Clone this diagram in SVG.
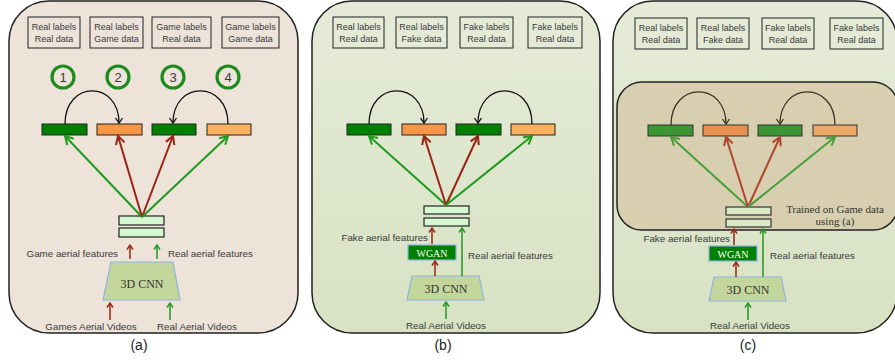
<svg xmlns="http://www.w3.org/2000/svg" width="895" height="360" viewBox="0 0 895 360">
<defs>
<linearGradient id="gb" x1="0" y1="0" x2="0" y2="1"><stop offset="0" stop-color="#e5ebd8"/><stop offset="1" stop-color="#d8e2c3"/></linearGradient>
<marker id="ag" markerUnits="userSpaceOnUse" markerWidth="12" markerHeight="12" viewBox="-10 -6 12 12" refX="0" refY="0" orient="auto"><path d="M-8,-4.5 L0,0 L-8,4.5" fill="none" stroke="#1e9a1e" stroke-width="2"/></marker>
<marker id="ar" markerUnits="userSpaceOnUse" markerWidth="12" markerHeight="12" viewBox="-10 -6 12 12" refX="0" refY="0" orient="auto"><path d="M-8,-4.5 L0,0 L-8,4.5" fill="none" stroke="#9a2412" stroke-width="2"/></marker>
<marker id="agc" markerUnits="userSpaceOnUse" markerWidth="12" markerHeight="12" viewBox="-10 -6 12 12" refX="0" refY="0" orient="auto"><path d="M-8,-4.5 L0,0 L-8,4.5" fill="none" stroke="#4a9e3a" stroke-width="2"/></marker>
<marker id="arc" markerUnits="userSpaceOnUse" markerWidth="12" markerHeight="12" viewBox="-10 -6 12 12" refX="0" refY="0" orient="auto"><path d="M-8,-4.5 L0,0 L-8,4.5" fill="none" stroke="#b0452e" stroke-width="2"/></marker>
<marker id="ak" markerUnits="userSpaceOnUse" markerWidth="10" markerHeight="10" viewBox="-8 -5 10 10" refX="0" refY="0" orient="auto"><path d="M-5,-3.5 L0,0 L-5,3.5" fill="none" stroke="#111" stroke-width="1.3"/></marker>
<marker id="akc" markerUnits="userSpaceOnUse" markerWidth="10" markerHeight="10" viewBox="-8 -5 10 10" refX="0" refY="0" orient="auto"><path d="M-5,-3.5 L0,0 L-5,3.5" fill="none" stroke="#3a3228" stroke-width="1.3"/></marker>
<marker id="sg" markerUnits="userSpaceOnUse" markerWidth="8" markerHeight="8" viewBox="-6 -4 8 8" refX="0" refY="0" orient="auto"><path d="M-4.5,-3 L0,0 L-4.5,3" fill="none" stroke="#1e9a1e" stroke-width="1.4"/></marker>
<marker id="sr" markerUnits="userSpaceOnUse" markerWidth="8" markerHeight="8" viewBox="-6 -4 8 8" refX="0" refY="0" orient="auto"><path d="M-4.5,-3 L0,0 L-4.5,3" fill="none" stroke="#9a2412" stroke-width="1.4"/></marker>
</defs>
<style>
.t{font-family:"Liberation Sans",Arial,sans-serif;fill:#3a3a3a;}
.lb{font-size:9px;text-anchor:middle;}
.lf{font-size:9.8px;}
.s{font-family:"Liberation Serif","Times New Roman",serif;fill:#333;}
.box{fill:none;stroke:#222;stroke-width:1;}
.circ{fill:none;stroke:#1b8c1b;stroke-width:3.2;}
.num{font-size:13px;text-anchor:middle;}
.bg{fill:#008000;stroke:#222;stroke-width:1;}
.bo{fill:#f79646;stroke:#222;stroke-width:1;}
.bl{fill:#fbb05f;stroke:#222;stroke-width:1;}
.bgc{fill:#3d9634;stroke:#333;stroke-width:1;}
.boc{fill:#e8914f;stroke:#333;stroke-width:1;}
.blc{fill:#eca866;stroke:#333;stroke-width:1;}
.fb{fill:#d5f8d0;stroke:#222;stroke-width:1.2;}
.fbc{fill:#dbe8c5;stroke:#333;stroke-width:1.2;}
.cnn{fill:#c3d69b;stroke:#8db3e2;stroke-width:1.2;}
.wg{fill:#008000;stroke:#8db3e2;stroke-width:1.2;}
.lg{stroke:#1e9a1e;stroke-width:2;fill:none;marker-end:url(#ag);}
.lr{stroke:#9a2412;stroke-width:2;fill:none;marker-end:url(#ar);}
.lgc{stroke:#4a9e3a;stroke-width:2;fill:none;marker-end:url(#agc);}
.lrc{stroke:#b0452e;stroke-width:2;fill:none;marker-end:url(#arc);}
.arc{stroke:#111;stroke-width:1.3;fill:none;marker-end:url(#ak);}
.arcc{stroke:#3a3228;stroke-width:1.3;fill:none;marker-end:url(#akc);}
.sgl{stroke:#1e9a1e;stroke-width:1.5;fill:none;marker-end:url(#sg);}
.srl{stroke:#9a2412;stroke-width:1.5;fill:none;marker-end:url(#sr);}
.cap{font-size:14px;text-anchor:middle;fill:#222;}
</style>

<!-- Panels -->
<g id="panel-a"><rect x="9" y="1" width="289" height="332" rx="40" fill="#ede3d9" stroke="#222" stroke-width="1.5"/></g>
<g id="panel-b"><rect x="312" y="1" width="288" height="332" rx="40" fill="url(#gb)" stroke="#222" stroke-width="1.5"/></g>
<g id="panel-c"><rect x="613" y="1" width="284" height="332" rx="40" fill="url(#gb)" stroke="#222" stroke-width="1.5"/></g>
<g id="panel-c-inner"><rect x="617" y="82" width="281" height="148" rx="25" fill="#d7cfaf" stroke="#222" stroke-width="1.5"/>
<text class="s" x="835" y="213" font-size="11" text-anchor="middle">Trained on Game data</text>
<text class="s" x="835" y="225" font-size="11" text-anchor="middle">using (a)</text></g>

<!-- Panel (a) nodes -->
<g id="a-label1"><rect class="box" x="28" y="17" width="52" height="31"/><text class="t lb" x="54" y="30">Real labels</text><text class="t lb" x="54" y="42">Real data</text></g>
<g id="a-label2"><rect class="box" x="90" y="17" width="53" height="31"/><text class="t lb" x="116.5" y="30">Real labels</text><text class="t lb" x="116.5" y="42">Game data</text></g>
<g id="a-label3"><rect class="box" x="152" y="17" width="59" height="31"/><text class="t lb" x="181.5" y="30">Game labels</text><text class="t lb" x="181.5" y="42">Real data</text></g>
<g id="a-label4"><rect class="box" x="222" y="17" width="57" height="31"/><text class="t lb" x="250.5" y="30">Game labels</text><text class="t lb" x="250.5" y="42">Game data</text></g>
<g id="a-c1"><circle class="circ" cx="63" cy="77" r="11"/><text class="t num" x="63" y="82">1</text></g>
<g id="a-c2"><circle class="circ" cx="118" cy="77" r="11"/><text class="t num" x="118" y="82">2</text></g>
<g id="a-c3"><circle class="circ" cx="173" cy="77" r="11"/><text class="t num" x="173" y="82">3</text></g>
<g id="a-c4"><circle class="circ" cx="228" cy="77" r="11"/><text class="t num" x="228" y="82">4</text></g>
<g id="a-bar1"><rect class="bg" x="42" y="124" width="45" height="11"/></g>
<g id="a-bar2"><rect class="bo" x="97" y="124" width="45" height="11"/></g>
<g id="a-bar3"><rect class="bg" x="152" y="124" width="44" height="11"/></g>
<g id="a-bar4"><rect class="bl" x="207" y="124" width="44" height="11"/></g>
<g id="a-feat"><rect class="fb" x="119" y="216" width="45" height="9"/><rect class="fb" x="119" y="228" width="45" height="9"/></g>
<g id="a-cnn"><polygon class="cnn" points="111,262 173,262 180,300 103,300"/><text class="s" x="142" y="288" font-size="12" text-anchor="middle">3D CNN</text></g>
<g id="a-labels">
<text class="t lf" x="118" y="257" text-anchor="end">Game aerial features</text>
<text class="t lf" x="168" y="257">Real aerial features</text>
<text class="t lf" x="91" y="330" text-anchor="middle">Games Aerial Videos</text>
<text class="t lf" x="197" y="330" text-anchor="middle">Real Aerial Videos</text>
<text class="t cap" x="139" y="350">(a)</text>
</g>

<!-- Panel (b) nodes -->
<g id="b-label1"><rect class="box" x="333" y="17" width="51" height="31"/><text class="t lb" x="358.5" y="30">Real labels</text><text class="t lb" x="358.5" y="42">Real data</text></g>
<g id="b-label2"><rect class="box" x="396" y="17" width="51" height="31"/><text class="t lb" x="421.5" y="30">Real labels</text><text class="t lb" x="421.5" y="42">Fake data</text></g>
<g id="b-label3"><rect class="box" x="460" y="17" width="53" height="31"/><text class="t lb" x="486.5" y="30">Fake labels</text><text class="t lb" x="486.5" y="42">Real data</text></g>
<g id="b-label4"><rect class="box" x="528" y="17" width="54" height="31"/><text class="t lb" x="555" y="30">Fake labels</text><text class="t lb" x="555" y="42">Real data</text></g>
<g id="b-bar1"><rect class="bg" x="347" y="124" width="44" height="11"/></g>
<g id="b-bar2"><rect class="bo" x="402" y="124" width="44" height="11"/></g>
<g id="b-bar3"><rect class="bg" x="456" y="124" width="45" height="11"/></g>
<g id="b-bar4"><rect class="bl" x="511" y="124" width="44" height="11"/></g>
<g id="b-feat"><rect class="fb" x="424" y="206" width="45" height="8"/><rect class="fb" x="424" y="218" width="45" height="8"/></g>
<g id="b-wgan"><rect class="wg" x="408" y="245" width="48" height="15"/><text class="s" x="432" y="256.5" font-size="10" text-anchor="middle" style="fill:#fff">WGAN</text></g>
<g id="b-cnn"><polygon class="cnn" points="412,276 479,276 484,300 407,300"/><text class="s" x="446" y="293" font-size="12" text-anchor="middle">3D CNN</text></g>
<g id="b-labels">
<text class="t lf" x="428" y="241" text-anchor="end">Fake aerial features</text>
<text class="t lf" x="468" y="259">Real aerial features</text>
<text class="t lf" x="446" y="329" text-anchor="middle">Real Aerial Videos</text>
<text class="t cap" x="443" y="350">(b)</text>
</g>

<!-- Panel (c) nodes -->
<g id="c-label1"><rect class="box" x="635" y="18" width="52" height="31"/><text class="t lb" x="661" y="31">Real labels</text><text class="t lb" x="661" y="43">Real data</text></g>
<g id="c-label2"><rect class="box" x="697" y="18" width="52" height="31"/><text class="t lb" x="723" y="31">Real labels</text><text class="t lb" x="723" y="43">Fake data</text></g>
<g id="c-label3"><rect class="box" x="762" y="18" width="52" height="31"/><text class="t lb" x="788" y="31">Fake labels</text><text class="t lb" x="788" y="43">Real data</text></g>
<g id="c-label4"><rect class="box" x="830" y="18" width="53" height="31"/><text class="t lb" x="856.5" y="31">Fake labels</text><text class="t lb" x="856.5" y="43">Real data</text></g>
<g id="c-bar1"><rect class="bgc" x="648" y="125" width="45" height="11"/></g>
<g id="c-bar2"><rect class="boc" x="703" y="125" width="45" height="11"/></g>
<g id="c-bar3"><rect class="bgc" x="758" y="125" width="44" height="11"/></g>
<g id="c-bar4"><rect class="blc" x="813" y="125" width="44" height="11"/></g>
<g id="c-feat"><rect class="fbc" x="726" y="207" width="45" height="8"/><rect class="fbc" x="726" y="219" width="45" height="8"/></g>
<g id="c-wgan"><rect class="wg" x="709" y="246" width="48" height="15"/><text class="s" x="733" y="257.5" font-size="10" text-anchor="middle" style="fill:#fff">WGAN</text></g>
<g id="c-cnn"><polygon class="cnn" points="714,277 781,277 786,301 709,301"/><text class="s" x="748" y="294" font-size="12" text-anchor="middle">3D CNN</text></g>
<g id="c-labels">
<text class="t lf" x="730" y="242" text-anchor="end">Fake aerial features</text>
<text class="t lf" x="770" y="259">Real aerial features</text>
<text class="t lf" x="750" y="329" text-anchor="middle">Real Aerial Videos</text>
<text class="t cap" x="748" y="350">(c)</text>
</g>

<!-- Connectors -->
<g id="connectors">
<!-- (a) -->
<path class="arc" d="M65,124 C65,80 119,80 119,123"/>
<path class="arc" d="M228,124 C228,80 173,80 173,123"/>
<line class="lg" x1="142" y1="217" x2="65" y2="136"/>
<line class="lr" x1="142" y1="217" x2="118" y2="136"/>
<line class="lr" x1="142" y1="217" x2="173" y2="136"/>
<line class="lg" x1="142" y1="217" x2="228" y2="136"/>
<line class="srl" x1="130" y1="259" x2="130" y2="245"/>
<line class="sgl" x1="157" y1="259" x2="157" y2="245"/>
<line class="srl" x1="110" y1="320" x2="110" y2="303"/>
<line class="sgl" x1="170" y1="320" x2="170" y2="303"/>
<!-- (b) -->
<path class="arc" d="M369,124 C369,80 424,80 424,123"/>
<path class="arc" d="M532,124 C532,80 478,80 478,123"/>
<line class="lg" x1="446" y1="205" x2="369" y2="136"/>
<line class="lr" x1="446" y1="205" x2="424" y2="136"/>
<line class="lr" x1="446" y1="205" x2="478" y2="136"/>
<line class="lg" x1="446" y1="205" x2="532" y2="136"/>
<line class="srl" x1="432" y1="244" x2="432" y2="228"/>
<line class="srl" x1="435" y1="276" x2="435" y2="261"/>
<line class="sgl" x1="462" y1="276" x2="462" y2="228"/>
<line class="sgl" x1="446" y1="319" x2="446" y2="302"/>
<!-- (c) -->
<path class="arcc" d="M671,125 C671,81 726,81 726,124"/>
<path class="arcc" d="M835,125 C835,81 780,81 780,124"/>
<line class="lgc" x1="748" y1="207" x2="671" y2="137"/>
<line class="lrc" x1="748" y1="207" x2="726" y2="137"/>
<line class="lrc" x1="748" y1="207" x2="780" y2="137"/>
<line class="lgc" x1="748" y1="207" x2="835" y2="137"/>
<line class="srl" x1="734" y1="245" x2="734" y2="229"/>
<line class="srl" x1="736" y1="277" x2="736" y2="262"/>
<line class="sgl" x1="763" y1="277" x2="763" y2="229"/>
<line class="sgl" x1="748" y1="320" x2="748" y2="303"/>
</g>
</svg>
